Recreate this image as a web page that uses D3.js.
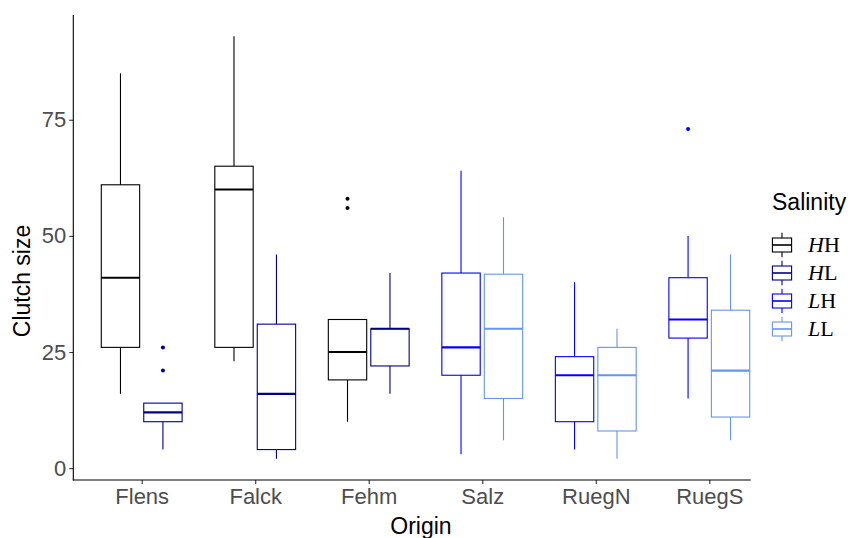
<!DOCTYPE html>
<html>
<head>
<meta charset="utf-8">
<script src="https://cdn.jsdelivr.net/npm/d3@7"></script>
<style>
  html, body { margin: 0; padding: 0; background: #fff; }
  svg { display: block; font-family: "Liberation Sans", Arial, sans-serif; }
</style>
</head>
<body>
<svg id="chart" width="851" height="538"></svg>
<script>
// Clutch size by origin population and salinity treatment (box summaries)
const origins = ["Flens", "Falck", "Fehm", "Salz", "RuegN", "RuegS"];
const salinityLevels = ["HH", "HL", "LH", "LL"];
const salinityColors = ["#000000", "#00008B", "#0000FF", "#6495ED"];

const boxOrigin   = ["Flens", "Flens", "Falck", "Falck", "Fehm", "Fehm", "Salz", "Salz", "RuegN", "RuegN", "RuegS", "RuegS"];
const boxSalinity = ["HH", "HL", "HH", "HL", "HH", "HL", "LH", "LL", "LH", "LL", "LH", "LL"];
const whiskerLow  = [16, 4, 23, 2, 10, 16, 3, 6, 4, 2, 15, 6];
const quartile1   = [26, 10, 26, 4, 19, 22, 20, 15, 10, 8, 28, 11];
const medians     = [41, 12, 60, 16, 25, 30, 26, 30, 20, 20, 32, 21];
const quartile3   = [61, 14, 65, 31, 32, 30, 42, 41.75, 24, 26, 41, 34];
const whiskerHigh = [85, 14, 93, 46, 32, 42, 64, 54, 40, 30, 50, 46];
const outliers    = [[], [21, 26], [], [], [56, 58], [], [], [], [], [], [73], []];

const yTicks = [0, 25, 50, 75];

const svg = d3.select("#chart");

const panel = { left: 73.3, right: 750.7, top: 15, bottom: 480 };

const x = d3.scalePoint().domain(origins).range([141.7, 709.3]);
const step = x.step();
const boxW = step * 0.338;
const dodge = step * 0.187;

const dataMin = 2, dataMax = 93;
const pad = (dataMax - dataMin) * 0.05;
const y = d3.scaleLinear().domain([dataMin - pad, dataMax + pad]).range([panel.bottom, panel.top]);

const color = d3.scaleOrdinal().domain(salinityLevels).range(salinityColors);

const boxes = boxOrigin.map((o, i) => ({
  origin: o,
  sal: boxSalinity[i],
  lo: whiskerLow[i], q1: quartile1[i], med: medians[i], q3: quartile3[i], hi: whiskerHigh[i],
  out: outliers[i],
  slot: (i % 2 === 0) ? -1 : 1
}));

const g = svg.append("g");

const box = g.selectAll("g.box").data(boxes).enter().append("g")
  .attr("class", "box")
  .attr("transform", d => `translate(${x(d.origin) + d.slot * dodge},0)`)
  .attr("stroke", d => color(d.sal))
  .attr("fill", "none");

// whiskers
box.append("line").attr("x1", 0).attr("x2", 0)
  .attr("y1", d => y(d.q3)).attr("y2", d => y(d.hi)).attr("stroke-width", 1.1);
box.append("line").attr("x1", 0).attr("x2", 0)
  .attr("y1", d => y(d.q1)).attr("y2", d => y(d.lo)).attr("stroke-width", 1.1);
// box body
box.append("rect")
  .attr("x", -boxW / 2).attr("width", boxW)
  .attr("y", d => y(d.q3)).attr("height", d => y(d.q1) - y(d.q3))
  .attr("fill", "#fff").attr("stroke-width", 1.1);
// median
box.append("line").attr("x1", -boxW / 2).attr("x2", boxW / 2)
  .attr("y1", d => y(d.med)).attr("y2", d => y(d.med)).attr("stroke-width", 2.1);
// outliers
box.selectAll("circle").data(d => d.out.map(v => ({ v, sal: d.sal }))).enter().append("circle")
  .attr("cx", 0).attr("cy", d => y(d.v)).attr("r", 2)
  .attr("stroke", "none").attr("fill", d => color(d.sal));

// axes
const yAxis = d3.axisLeft(y).tickValues(yTicks).tickSize(4).tickPadding(3);
const yg = svg.append("g").attr("transform", `translate(${panel.left},0)`).call(yAxis);
yg.select(".domain").remove();
yg.append("line").attr("x1", 0).attr("x2", 0).attr("y1", panel.top).attr("y2", panel.bottom + 0.5)
  .attr("stroke", "#000").attr("stroke-width", 1.1);
yg.selectAll(".tick line").attr("stroke", "#333").attr("stroke-width", 1.1);
yg.selectAll(".tick text").attr("fill", "#4D4D4D").attr("font-size", 22)
  .attr("font-family", "Liberation Sans, Arial, sans-serif");

const xAxis = d3.axisBottom(x).tickSize(4).tickPadding(4);
const xg = svg.append("g").attr("transform", `translate(0,${panel.bottom})`).call(xAxis);
xg.select(".domain").remove();
xg.append("line").attr("x1", panel.left - 0.5).attr("x2", panel.right).attr("y1", 0).attr("y2", 0)
  .attr("stroke", "#000").attr("stroke-width", 1.1);
xg.selectAll(".tick line").attr("stroke", "#333").attr("stroke-width", 1.1);
xg.selectAll(".tick text").attr("fill", "#4D4D4D").attr("font-size", 22)
  .attr("font-family", "Liberation Sans, Arial, sans-serif");

// axis titles
svg.append("text").attr("x", 421).attr("y", 534).attr("text-anchor", "middle")
  .attr("font-size", 23).attr("fill", "#000").text("Origin");
svg.append("text").attr("transform", "translate(30,281) rotate(-90)").attr("text-anchor", "middle")
  .attr("font-size", 23).attr("fill", "#000").text("Clutch size");

// legend
const legend = svg.append("g").attr("transform", "translate(770,0)");
legend.append("text").attr("x", 2).attr("y", 210).attr("font-size", 23).attr("fill", "#000").text("Salinity");

const keyH = 28, keyW = 24, keyTop = 231;
const keys = legend.selectAll("g.key").data(salinityLevels).enter().append("g")
  .attr("class", "key")
  .attr("transform", (d, i) => `translate(0,${keyTop + i * keyH})`);
keys.each(function (d) {
  const k = d3.select(this);
  const c = color(d);
  k.append("line").attr("x1", keyW / 2).attr("x2", keyW / 2).attr("y1", keyH * 0.06).attr("y2", keyH * 0.25)
    .attr("stroke", c).attr("stroke-width", 1.1);
  k.append("line").attr("x1", keyW / 2).attr("x2", keyW / 2).attr("y1", keyH * 0.75).attr("y2", keyH * 0.94)
    .attr("stroke", c).attr("stroke-width", 1.1);
  k.append("rect").attr("x", keyW * 0.1).attr("width", keyW * 0.8)
    .attr("y", keyH * 0.25).attr("height", keyH * 0.5)
    .attr("fill", "#fff").attr("stroke", c).attr("stroke-width", 1.1);
  k.append("line").attr("x1", keyW * 0.1).attr("x2", keyW * 0.9).attr("y1", keyH * 0.5).attr("y2", keyH * 0.5)
    .attr("stroke", c).attr("stroke-width", 1.6);
  const t = k.append("text").attr("x", 38).attr("y", keyH * 0.5 + 7)
    .attr("font-family", "Liberation Serif, Times New Roman, serif").attr("font-size", 22).attr("fill", "#000");
  t.append("tspan").attr("font-style", "italic").text(d[0]);
  t.append("tspan").text(d[1]);
});
</script>
</body>
</html>
